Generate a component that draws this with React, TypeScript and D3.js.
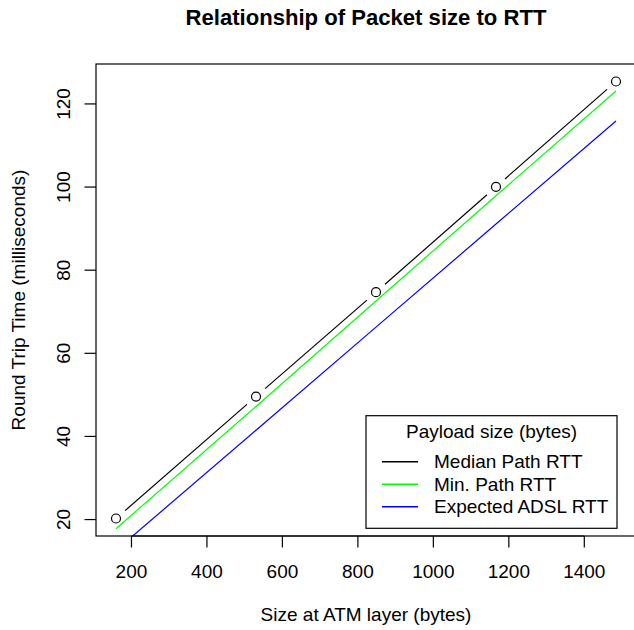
import React from "react";
import * as d3 from "d3";

// Packet sizes at the ATM layer (bytes): 3, 10, 16, 22 and 28 cells of 53 bytes
const atmSizes: number[] = [159, 530, 848, 1166, 1484];
// Round trip times (milliseconds)
const medianRtt: number[] = [20.25, 49.6, 74.7, 100.05, 125.4];
const minRtt: number[] = [17.8, 47.2, 72.6, 97.9, 123.1];
const expectedAdslRtt: number[] = [12.6, 41.5, 66.3, 91.1, 115.9];

const xTicks: number[] = [200, 400, 600, 800, 1000, 1200, 1400];
const yTicks: number[] = [20, 40, 60, 80, 100, 120];

const legendTitle = "Payload size (bytes)";
const legendLabels: string[] = ["Median Path RTT", "Min. Path RTT", "Expected ADSL RTT"];
const legendColors: string[] = ["#000000", "#00ff00", "#0000ff"];

const W = 634;
const H = 630;
const FONT = "'Liberation Sans', Arial, Helvetica, sans-serif";
const FS = 19;

// plot region
const left = 96;
const right = 636;
const top = 64;
const bottom = 536;

// R-style 4% axis extension
function padded(vals: number[]): [number, number] {
  const [lo, hi] = d3.extent(vals) as [number, number];
  const p = (hi - lo) * 0.04;
  return [lo - p, hi + p];
}

export default function App() {
  const x = d3.scaleLinear().domain(padded(atmSizes)).range([left, right]);
  const y = d3.scaleLinear().domain(padded(medianRtt)).range([bottom, top]);

  const line = d3
    .line<[number, number]>()
    .x((d) => x(d[0]))
    .y((d) => y(d[1]));

  const minPts: [number, number][] = atmSizes.map((s, i) => [s, minRtt[i]]);
  const adslPts: [number, number][] = atmSizes.map((s, i) => [s, expectedAdslRtt[i]]);

  // type "b": segments between points, with a gap around each point
  const gap = 12;
  const medSegs = atmSizes.slice(1).map((s, i) => {
    const x0 = x(atmSizes[i]);
    const y0 = y(medianRtt[i]);
    const x1 = x(s);
    const y1 = y(medianRtt[i + 1]);
    const len = Math.hypot(x1 - x0, y1 - y0);
    const ux = (x1 - x0) / len;
    const uy = (y1 - y0) / len;
    return {
      x1: x0 + ux * gap,
      y1: y0 + uy * gap,
      x2: x1 - ux * gap,
      y2: y1 - uy * gap,
    };
  });

  const legX = 366;
  const legY = 415.7;
  const legW = 251;
  const legH = 112.6;

  return (
    <svg
      width={W}
      height={H}
      style={{ position: "fixed", left: 0, top: 0, background: "#fff" }}
      fontFamily={FONT}
    >
      <defs>
        <clipPath id="plotClip">
          <rect x={left} y={top} width={right - left} height={bottom - top} />
        </clipPath>
      </defs>
      <rect x={0} y={0} width={W} height={H} fill="#fff" />

      {/* title */}
      <text x={(left + right) / 2} y={25} textAnchor="middle" fontWeight="bold" fontSize={22.1}>
        Relationship of Packet size to RTT
      </text>

      {/* series */}
      <g clipPath="url(#plotClip)">
        <path d={line(adslPts) || ""} fill="none" stroke={legendColors[2]} strokeWidth={1.2} />
        <path d={line(minPts) || ""} fill="none" stroke={legendColors[1]} strokeWidth={1.2} />
        {medSegs.map((s, i) => (
          <line key={i} {...s} stroke={legendColors[0]} strokeWidth={1.2} />
        ))}
        {atmSizes.map((s, i) => (
          <circle key={i} cx={x(s)} cy={y(medianRtt[i])} r={4.5} fill="none" stroke="#000" strokeWidth={1.2} />
        ))}
      </g>

      {/* plot box */}
      <rect x={left} y={top} width={right - left} height={bottom - top} fill="none" stroke="#000" strokeWidth={1.2} />

      {/* x axis */}
      <line x1={x(xTicks[0])} x2={x(xTicks[xTicks.length - 1])} y1={bottom} y2={bottom} stroke="#000" strokeWidth={1.2} />
      {xTicks.map((t) => (
        <g key={t}>
          <line x1={x(t)} x2={x(t)} y1={bottom} y2={bottom + 11.5} stroke="#000" strokeWidth={1.2} />
          <text x={x(t)} y={578} textAnchor="middle" fontSize={FS}>
            {t}
          </text>
        </g>
      ))}
      <text x={(left + right) / 2} y={621} textAnchor="middle" fontSize={FS}>
        Size at ATM layer (bytes)
      </text>

      {/* y axis */}
      {yTicks.map((t) => (
        <g key={t}>
          <line x1={left} x2={left - 11.5} y1={y(t)} y2={y(t)} stroke="#000" strokeWidth={1.2} />
          <text transform={`translate(70,${y(t)}) rotate(-90)`} textAnchor="middle" fontSize={FS}>
            {t}
          </text>
        </g>
      ))}
      <text transform={`translate(25,${(top + bottom) / 2}) rotate(-90)`} textAnchor="middle" fontSize={FS}>
        Round Trip Time (milliseconds)
      </text>

      {/* legend */}
      <rect x={legX} y={legY} width={legW} height={legH} fill="#fff" stroke="#000" strokeWidth={1.2} />
      <text x={legX + legW / 2} y={437.7} textAnchor="middle" fontSize={FS}>
        {legendTitle}
      </text>
      {legendLabels.map((lab, i) => {
        const cy = 461.7 + i * 22.5;
        return (
          <g key={lab}>
            <line x1={382} x2={418} y1={cy} y2={cy} stroke={legendColors[i]} strokeWidth={1.4} />
            <text x={434} y={cy + 6.3} fontSize={FS}>
              {lab}
            </text>
          </g>
        );
      })}
    </svg>
  );
}
